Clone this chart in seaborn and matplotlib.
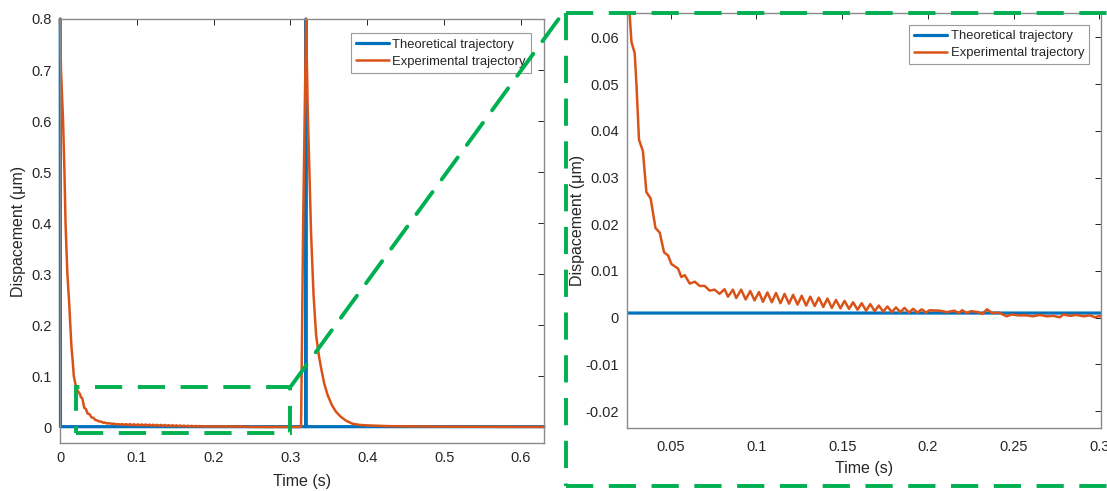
import numpy as np
import pandas as pd
import seaborn as sns
import matplotlib
matplotlib.use("Agg")
import matplotlib.pyplot as plt
from matplotlib.lines import Line2D
from matplotlib.patches import Rectangle, ConnectionPatch

# ---------------- data ----------------
theory_t = [0.0003, 0.0006, 0.3199, 0.3200, 0.3201, 0.6300]
theory_y = [0.8, 0.001, 0.001, 0.8, 0.001, 0.001]

# experimental trajectory
exp_t_first = [0.0000, 0.0013, 0.0040, 0.0058, 0.0072, 0.0096, 0.0117, 0.0135,
               0.0148, 0.0165, 0.0180, 0.0200, 0.0226, 0.0245,
               0.0261, 0.0271, 0.0290, 0.0300, 0.0315, 0.0338, 0.0358, 0.0383,
               0.0411, 0.0436, 0.0461, 0.0485, 0.0504, 0.0543, 0.0562, 0.0582,
               0.0611, 0.0640, 0.0669, 0.0698, 0.0727, 0.0756, 0.0785]
exp_y_first = [0.800, 0.700, 0.600, 0.500, 0.400, 0.300, 0.250, 0.200,
               0.160, 0.130, 0.100, 0.085, 0.072, 0.068,
               0.0646, 0.0590, 0.0566, 0.0500, 0.0381, 0.0356, 0.0269, 0.0255,
               0.0192, 0.0182, 0.0140, 0.0133, 0.0115, 0.0105, 0.0087, 0.0091,
               0.0073, 0.0077, 0.0068, 0.0068, 0.0058, 0.0060, 0.0051]

# ripple: alternating peaks / troughs
exp_t_ripple = [0.0814, 0.0834, 0.0863, 0.0882, 0.0911, 0.0937, 0.0964, 0.0989,
                0.1015, 0.1038, 0.1064, 0.1090, 0.1114, 0.1140, 0.1164, 0.1190,
                0.1214, 0.1240, 0.1264, 0.1290, 0.1314, 0.1340, 0.1364, 0.1390,
                0.1414, 0.1440, 0.1464, 0.1490, 0.1514, 0.1540, 0.1564, 0.1590,
                0.1614, 0.1640, 0.1664, 0.1690, 0.1714, 0.1740, 0.1764, 0.1790,
                0.1814, 0.1840, 0.1864, 0.1890, 0.1914, 0.1940, 0.1964, 0.1990]
exp_y_ripple = [0.0061, 0.0045, 0.0060, 0.0042, 0.0060, 0.0039, 0.0057, 0.0037,
                0.0055, 0.0034, 0.0054, 0.0033, 0.0053, 0.0031, 0.0051, 0.0030,
                0.0049, 0.0028, 0.0047, 0.0026, 0.0045, 0.0025, 0.0043, 0.0023,
                0.0041, 0.0021, 0.0038, 0.0020, 0.0036, 0.0019, 0.0033, 0.0017,
                0.0031, 0.0015, 0.0029, 0.0014, 0.0026, 0.0013, 0.0024, 0.0012,
                0.0022, 0.0012, 0.0021, 0.0011, 0.0019, 0.0011, 0.0018, 0.0011]

exp_t_tail = [0.2010, 0.2070, 0.2110, 0.2154, 0.2180, 0.2200, 0.2227, 0.2252,
              0.2291, 0.2318, 0.2345, 0.2375, 0.2413, 0.2460, 0.2490, 0.2527,
              0.2575, 0.2614, 0.2653, 0.2692, 0.2731, 0.2770, 0.2790, 0.2829,
              0.2868, 0.2907, 0.2946, 0.2975, 0.2994, 0.3040, 0.3100, 0.3138]
exp_y_tail = [0.0016, 0.0015, 0.0012, 0.0015, 0.0010, 0.0016, 0.0010, 0.0014,
              0.0012, 0.0008, 0.0018, 0.0010, 0.0011, 0.0003, 0.0007, 0.0005,
              0.0005, 0.0003, 0.0006, 0.0003, 0.0004, 0.0001, 0.0007, 0.0004,
              0.0006, 0.0003, 0.0005, 0.0001, 0.0003, 0.0004, 0.0004, 0.0005]

exp_t_second = [0.3165, 0.3203, 0.3225, 0.3250, 0.3268, 0.3300, 0.3334, 0.3370,
                0.3400, 0.3440, 0.3485, 0.3540, 0.3594, 0.3650, 0.3720, 0.3810,
                0.3900, 0.4000, 0.4290, 0.4600, 0.5000, 0.5500, 0.6000, 0.6300]
exp_y_second = [0.400, 0.800, 0.620, 0.480, 0.380, 0.260, 0.180, 0.140,
                0.115, 0.085, 0.0625, 0.043, 0.030, 0.021, 0.013, 0.0066,
                0.0045, 0.0035, 0.0020, 0.0015, 0.0010, 0.0008, 0.0006, 0.0005]

exp_t = exp_t_first + exp_t_ripple + exp_t_tail + exp_t_second
exp_y = exp_y_first + exp_y_ripple + exp_y_tail + exp_y_second

labels = ["Theoretical trajectory", "Experimental trajectory"]

left_xticks = [0, 0.1, 0.2, 0.3, 0.4, 0.5, 0.6]
left_xticklabels = ["0", "0.1", "0.2", "0.3", "0.4", "0.5", "0.6"]
left_yticks = [0, 0.1, 0.2, 0.3, 0.4, 0.5, 0.6, 0.7, 0.8]
left_yticklabels = ["0", "0.1", "0.2", "0.3", "0.4", "0.5", "0.6", "0.7", "0.8"]
right_xticks = [0.05, 0.1, 0.15, 0.2, 0.25, 0.3]
right_xticklabels = ["0.05", "0.1", "0.15", "0.2", "0.25", "0.3"]
right_yticks = [-0.02, -0.01, 0, 0.01, 0.02, 0.03, 0.04, 0.05, 0.06]
right_yticklabels = ["-0.02", "-0.01", "0", "0.01", "0.02", "0.03", "0.04", "0.05", "0.06"]

theory_df = pd.DataFrame({"t": theory_t, "y": theory_y})
exp_df = pd.DataFrame({"t": exp_t, "y": exp_y})

# ---------------- style ----------------
sns.set_style("white")
plt.rcParams["font.family"] = ["Liberation Sans", "DejaVu Sans"]
BLUE = "#0072BD"
ORANGE = "#D95319"
GREEN = "#00B050"
TXT = "#262626"
SPINE = "#8a8a8a"

W, H = 1107, 491
fig = plt.figure(figsize=(W / 100, H / 100), dpi=100)

def px_axes(l, t, r, b):
    return fig.add_axes([l / W, 1 - b / H, (r - l) / W, (b - t) / H])

ax1 = px_axes(60, 19, 544, 443)
ax2 = px_axes(627, 13, 1101, 428)

for ax, clip in ((ax1, False), (ax2, True)):
    sns.lineplot(data=theory_df, x="t", y="y", ax=ax, color=BLUE, lw=2.3,
                 sort=False, estimator=None, label=labels[0])
    sns.lineplot(data=exp_df, x="t", y="y", ax=ax, color=ORANGE, lw=1.8,
                 sort=False, estimator=None, label=labels[1])
    for ln in ax.get_lines():
        ln.set_clip_on(clip)

ax1.set_xlim(0, 0.63)
ax1.set_ylim(-0.031, 0.8)
ax1.set_xticks(left_xticks, left_xticklabels)
ax1.set_yticks(left_yticks, left_yticklabels)

ax2.set_xlim(0.0245, 0.301)
ax2.set_ylim(-0.0236, 0.0652)
ax2.set_xticks(right_xticks, right_xticklabels)
ax2.set_yticks(right_yticks, right_yticklabels)

for ax, tpad, xlp, ylp in ((ax1, 6, 6, 4), (ax2, 8.5, 5, 0)):
    ax.set_xlabel("Time (s)", fontsize=11.5, color=TXT, labelpad=xlp)
    ax.set_ylabel("Dispacement (\u03bcm)", fontsize=11.5, color=TXT, labelpad=ylp)
    ax.tick_params(direction="in", top=True, right=True, length=4, width=0.7,
                   color=TXT, labelsize=10.5, labelcolor=TXT)
    ax.tick_params(axis="x", pad=tpad)
    ax.tick_params(axis="y", pad=6)
    for s in ax.spines.values():
        s.set_visible(True)
        s.set_color(SPINE)
        s.set_linewidth(1.0)

leg_kw = dict(loc="upper right", borderaxespad=0, fontsize=9.4, frameon=True,
              fancybox=False, framealpha=1, edgecolor="#9a9a9a",
              handlelength=2.5, handletextpad=0.3, labelspacing=0.38,
              borderpad=0.38)
l1 = ax1.legend(bbox_to_anchor=(0.973, 0.966), **leg_kw)
l2 = ax2.legend(bbox_to_anchor=(0.975, 0.971), **leg_kw)
for lg in (l1, l2):
    lg.get_frame().set_linewidth(0.8)
    for t in lg.get_texts():
        t.set_color(TXT)

# ---------------- green zoom annotation ----------------
DLW = 2.8
DSTYLE = (0, (7.0, 4.0))
rect = Rectangle((0.021, -0.011), 0.279, 0.090, fill=False, edgecolor=GREEN,
                 lw=DLW, linestyle=DSTYLE, zorder=5, clip_on=False)
ax1.add_patch(rect)

def fx(x):
    return x / W

def fy(y):
    return 1 - y / H

frame_l, frame_t, frame_b = 566, 13, 485.5
fig.add_artist(Line2D([fx(frame_l), 1.0], [fy(frame_t), fy(frame_t)], color=GREEN,
                      lw=DLW, linestyle=DSTYLE, transform=fig.transFigure))
fig.add_artist(Line2D([fx(frame_l), fx(frame_l)], [fy(frame_t), fy(frame_b)], color=GREEN,
                      lw=DLW, linestyle=DSTYLE, transform=fig.transFigure))
fig.add_artist(Line2D([fx(frame_l), 1.0], [fy(frame_b), fy(frame_b)], color=GREEN,
                      lw=DLW, linestyle=DSTYLE, transform=fig.transFigure))
con = ConnectionPatch(xyA=(0.3, 0.079), coordsA=ax1.transData,
                      xyB=(fx(frame_l - 3), fy(frame_t)), coordsB=fig.transFigure,
                      color=GREEN, lw=DLW, linestyle=DSTYLE, zorder=6)
fig.add_artist(con)

fig.savefig("out.png", dpi=100)
